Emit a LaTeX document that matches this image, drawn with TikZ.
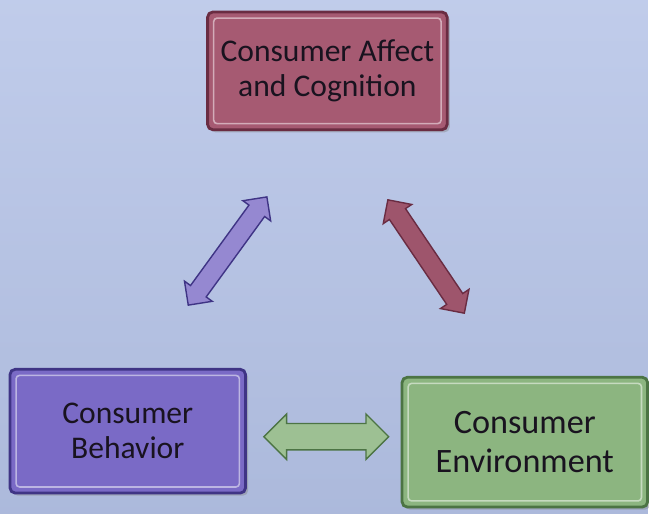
\documentclass[tikz,border=0pt]{standalone}
\usepackage{fontspec}
\setmainfont{Carlito}
\usepackage{xcolor}
\usetikzlibrary{positioning,calc,shapes.arrows,shadows}

\definecolor{slide}{HTML}{B5C3E7}
\definecolor{ink}{HTML}{19131F}
\definecolor{affectface}{HTML}{A65A72}
\definecolor{affectrim}{HTML}{6A2C42}
\definecolor{behavface}{HTML}{7A6AC6}
\definecolor{behavrim}{HTML}{3F3485}
\definecolor{envface}{HTML}{8CB580}
\definecolor{envrim}{HTML}{4C7444}

% inner bevel line of a box
\newcommand{\bevel}[2]{%
  \draw[#2!50!white, line width=0.9pt, rounded corners=2pt]
    ([shift={(0.15,-0.15)}]#1.north west) rectangle ([shift={(-0.15,0.15)}]#1.south east);}

\begin{document}
\begin{tikzpicture}[
  box/.style = {draw, rounded corners=3pt, line width=1.6pt, align=center, text=ink,
    font=\fontsize{18}{20}\selectfont,
    drop shadow={shadow xshift=1.5pt, shadow yshift=-1.5pt, opacity=0.4}},
  link/.style = {double arrow, draw, line width=0.8pt, inner xsep=0pt, inner ysep=0.18cm,
    double arrow head extend=0.15cm},
]
\fill[top color=slide!85!white, bottom color=slide!95!black] (0,0) rectangle (12.98,10.28);

\node[box, fill=affectface, draw=affectrim, minimum width=4.8cm, minimum height=2.36cm]
  (affect) at (6.56,8.86) {Consumer Affect\\and Cognition};
\node[box, fill=behavface, draw=behavrim, minimum width=4.72cm, minimum height=2.48cm]
  (behavior) at (2.56,1.64) {Consumer\\Behavior};
\node[box, fill=envface, draw=envrim, minimum width=4.92cm, minimum height=2.6cm,
  font=\fontsize{19.5}{22}\selectfont, right=3.08cm of behavior, yshift=-0.22cm]
  (environment) {Consumer\\Environment};
\bevel{affect}{affectface}
\bevel{behavior}{behavface}
\bevel{environment}{envface}

% two-way links between the boxes
\node[link, fill=behavface!80!white, draw=behavrim, minimum height=2.68cm, rotate=54]
  (ab) at ($(affect)!0.5!(behavior)$) {};
\node[link, fill=affectface!95!black, draw=affectrim, minimum height=2.74cm, rotate=-56]
  (ae) at ($(affect)!0.5!(environment)$) {};
\node[link, fill=envface!85!white, draw=envrim, minimum height=2.5cm, inner ysep=0.25cm,
  double arrow head extend=0.19cm] (be) at ($(behavior)!0.5!(environment)$) {};
\end{tikzpicture}
\end{document}
